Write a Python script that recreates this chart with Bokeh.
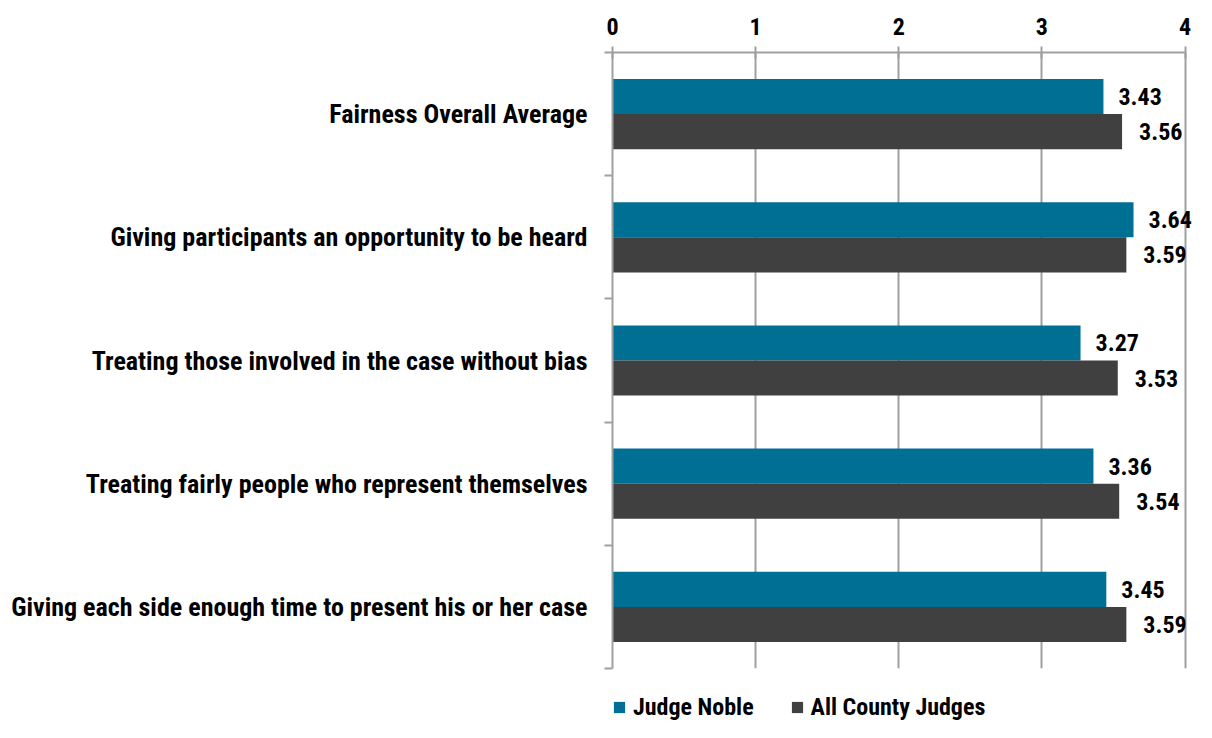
import numpy as np
from bokeh.plotting import figure
from bokeh.layouts import column
from bokeh.models import Range1d, FixedTicker, Legend, LegendItem, ColumnDataSource, LabelSet
from bokeh.transform import dodge
from bokeh.core.properties import value
from bokeh.embed import file_html
from bokeh.resources import INLINE

categories = [
    "Fairness Overall Average",
    "Giving participants an opportunity to be heard",
    "Treating those involved in the case without bias",
    "Treating fairly people who represent themselves",
    "Giving each side enough time to present his or her case",
]
judge_noble = [3.43, 3.64, 3.27, 3.36, 3.45]
all_county = [3.56, 3.59, 3.53, 3.54, 3.59]
x_ticks = [0, 1, 2, 3, 4]
series_names = ["Judge Noble", "All County Judges"]

FONT = "'Liberation Sans Narrow', 'Arial Narrow', 'Roboto Condensed', sans-serif"
BLUE = "#006F94"
GRAY = "#404040"
AXIS = "#A0A0A0"

bw = 0.285
pos = list(range(1, len(categories) + 1))
src = ColumnDataSource(dict(
    pos=pos,
    noble=judge_noble,
    county=all_county,
    noble_lbl=[f"{v:.2f}" for v in judge_noble],
    county_lbl=[f"{v:.2f}" for v in all_county],
))

# x range slightly beyond 4 so value labels are not clipped; axis/grid bounded to 0..4
p = figure(width=1196, height=672,
           output_backend="svg", toolbar_location=None,
           x_range=Range1d(0, 4.08), y_range=Range1d(len(categories) + 0.5, 0.5),
           x_axis_location="above", min_border_left=612, min_border_right=0,
           min_border_top=52, min_border_bottom=4, outline_line_color=None)

r1 = p.hbar(y=dodge("pos", -bw / 2), right="noble", left=0, height=bw, source=src,
            fill_color=BLUE, line_color=None)
r2 = p.hbar(y=dodge("pos", bw / 2), right="county", left=0, height=bw, source=src,
            fill_color=GRAY, line_color=None)

lab_kw = dict(source=src, text_align="left", text_baseline="middle",
              text_font=value(FONT), text_font_style="bold", text_font_size="24px",
              text_color="black")
p.add_layout(LabelSet(x="noble", y=dodge("pos", -bw / 2), text="noble_lbl",
                      x_offset=15, **lab_kw))
p.add_layout(LabelSet(x="county", y=dodge("pos", bw / 2), text="county_lbl",
                      x_offset=17, **lab_kw))

# x axis (top)
xa = p.xaxis[0]
xa.ticker = FixedTicker(ticks=x_ticks)
xa.bounds = (x_ticks[0], x_ticks[-1])
xa.axis_line_color = AXIS
xa.axis_line_width = 2
xa.major_tick_line_color = AXIS
xa.major_tick_line_width = 2
xa.major_tick_in = 6
xa.major_tick_out = 6
xa.minor_tick_line_color = None
xa.major_label_text_font = FONT
xa.major_label_text_font_style = "bold"
xa.major_label_text_font_size = "24px"
xa.major_label_text_color = "black"
xa.major_label_standoff = 12

# y axis (left)
ya = p.yaxis[0]
ya.ticker = FixedTicker(ticks=pos, minor_ticks=[v + 0.5 for v in range(0, len(categories) + 1)])
ya.major_label_overrides = {i: c for i, c in zip(pos, categories)}
ya.axis_line_color = AXIS
ya.axis_line_width = 2
ya.major_tick_line_color = None
ya.major_tick_in = 0
ya.major_tick_out = 0
ya.minor_tick_line_color = AXIS
ya.minor_tick_line_width = 2
ya.minor_tick_in = 0
ya.minor_tick_out = 8
ya.major_label_text_font = FONT
ya.major_label_text_font_style = "bold"
ya.major_label_text_font_size = "26px"
ya.major_label_text_color = "black"
ya.major_label_standoff = 17

p.xgrid.ticker = FixedTicker(ticks=x_ticks[1:])
p.xgrid.grid_line_color = AXIS
p.xgrid.grid_line_width = 2
p.ygrid.grid_line_color = None

# legend strip below the chart (its renderers sit outside its visible range)
lg = figure(width=1196, height=50, output_backend="svg", toolbar_location=None,
            x_range=Range1d(-20, -19), y_range=Range1d(-20, -19),
            x_axis_location=None, y_axis_location=None, min_border=0,
            min_border_top=20, outline_line_color=None)
lg.grid.visible = False
l1 = lg.hbar(y="pos", right="noble", left=0, height=bw, source=src, fill_color=BLUE, line_color=None)
l2 = lg.hbar(y="pos", right="county", left=0, height=bw, source=src, fill_color=GRAY, line_color=None)

legend = Legend(items=[LegendItem(label=series_names[0], renderers=[l1]),
                       LegendItem(label=series_names[1], renderers=[l2])],
                orientation="horizontal", location="center_left", margin=0,
                glyph_width=14, glyph_height=14, label_standoff=7, spacing=36,
                label_text_font=FONT, label_text_font_style="bold",
                label_text_font_size="24px", label_text_color="black",
                border_line_color=None, background_fill_alpha=0, padding=0)
lg.add_layout(legend, "center")

open("out.html", "w").write(file_html(column(p, lg, spacing=0), INLINE))
